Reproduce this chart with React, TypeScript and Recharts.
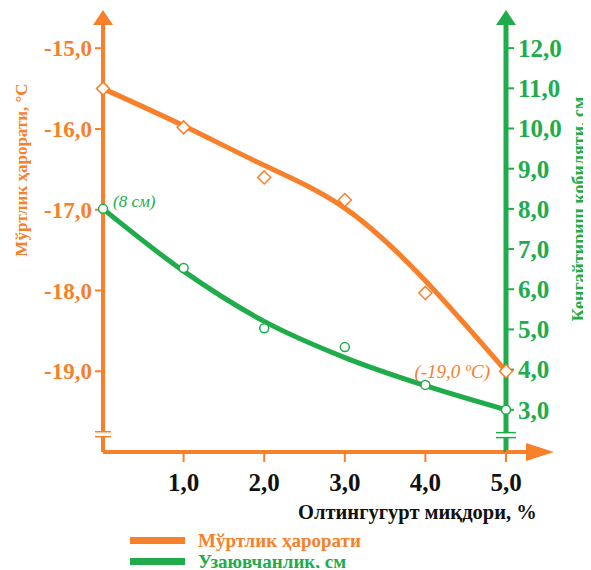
import React from "react";
import { ComposedChart, Line, XAxis, YAxis, ReferenceDot } from "recharts";

const ORANGE = "#F8802B";
const GREEN = "#20AC4A";
const FONT = "'Liberation Serif', 'Times New Roman', serif";

// sulphur content, %
const sulphur = [0, 1, 2, 3, 4, 5];
// brittleness temperature, °C (measured points and fitted curve)
const brittleTemp = [-15.5, -15.98, -16.6, -16.88, -18.03, -19.0];
const brittleFit = [-15.5, -15.96, -16.45, -16.98, -17.88, -19.0];
// ductility, cm (measured points and fitted curve)
const ductility = [8.0, 6.53, 5.03, 4.56, 3.62, 3.0];
const ductilityFit = [8.0, 6.45, 5.2, 4.3, 3.6, 3.0];

const xTicks = [1, 2, 3, 4, 5];
const tempTicks = [-19, -18, -17, -16, -15];
const ductTicks = [3, 4, 5, 6, 7, 8, 9, 10, 11, 12];

const tempDomain = [-20, -14.7];
const ductDomain = [1.95, 12.6];

const data = sulphur.map((x, i) => ({
  x,
  temp: brittleTemp[i],
  tempFit: brittleFit[i],
  duct: ductility[i],
  ductFit: ductilityFit[i],
}));

const comma = (v: number) => v.toFixed(1).replace(".", ",");

const Diamond = (props: any) => {
  const { cx, cy } = props;
  if (cx == null || cy == null) return <g />;
  const s = 6.5;
  return (
    <path
      d={`M${cx},${cy - s}L${cx + s},${cy}L${cx},${cy + s}L${cx - s},${cy}Z`}
      fill="#fff"
      stroke={ORANGE}
      strokeWidth={1.5}
    />
  );
};

const Ring = (props: any) => {
  const { cx, cy } = props;
  if (cx == null || cy == null) return <g />;
  return <circle cx={cx} cy={cy} r={4.5} fill="#fff" stroke={GREEN} strokeWidth={1.5} />;
};

const tempLabel = (p: any) =>
  p.index === brittleTemp.length - 1 ? (
    <text
      x={p.x - 16}
      y={p.y + 7}
      textAnchor="end"
      fill={ORANGE}
      fontSize={19}
      fontStyle="italic"
      fontFamily={FONT}
    >
      {`(${comma(p.value)} ºC)`}
    </text>
  ) : (
    <g />
  );

const ductLabel = (p: any) =>
  p.index === 0 ? (
    <text
      x={p.x + 10}
      y={p.y - 2}
      fill={GREEN}
      fontSize={17}
      fontStyle="italic"
      fontFamily={FONT}
    >
      {`(${Number(p.value)} см)`}
    </text>
  ) : (
    <g />
  );

const UpArrow = (color: string) => (p: any) => (
  <polygon
    points={`${p.cx - 10},${p.cy + 1} ${p.cx + 10},${p.cy + 1} ${p.cx},${p.cy - 14}`}
    fill={color}
  />
);

const RightArrow = (p: any) => (
  <g>
    <line x1={p.cx} y1={p.cy} x2={p.cx + 24} y2={p.cy} stroke={ORANGE} strokeWidth={4} />
    <polygon
      points={`${p.cx + 20},${p.cy - 9} ${p.cx + 20},${p.cy + 9} ${p.cx + 48},${p.cy}`}
      fill={ORANGE}
    />
  </g>
);

const AxisBreak = (color: string, half: number) => (p: any) => (
  <g>
    <rect x={p.cx - 3} y={p.cy - 2.5} width={6} height={5} fill="#fff" />
    <line x1={p.cx - half} y1={p.cy - 2.5} x2={p.cx + half} y2={p.cy - 2.5} stroke={color} strokeWidth={1.5} />
    <line x1={p.cx - half} y1={p.cy + 2.5} x2={p.cx + half} y2={p.cy + 2.5} stroke={color} strokeWidth={1.5} />
  </g>
);

const LeftTitle = (props: any) => {
  const { x, y } = props.viewBox;
  const cx = x - 2;
  const cy = y + 146;
  return (
    <text
      x={cx}
      y={cy}
      transform={`rotate(-90, ${cx}, ${cy})`}
      textAnchor="middle"
      dominantBaseline="central"
      fill={ORANGE}
      fontSize={17}
      fontWeight="bold"
      fontFamily={FONT}
    >
      Мўртлик ҳарорати, °С
    </text>
  );
};

const RightTitle = (props: any) => {
  const { x, y } = props.viewBox;
  const cx = x + 73;
  const cy = y + 185;
  return (
    <text
      x={cx}
      y={cy}
      transform={`rotate(-90, ${cx}, ${cy})`}
      textAnchor="middle"
      dominantBaseline="central"
      fill={GREEN}
      fontSize={18}
      fontWeight="bold"
      fontFamily={FONT}
    >
      Кенгайтириш қобиляти, см
    </text>
  );
};

const BottomTitle = (props: any) => {
  const { x, y } = props.viewBox;
  return (
    <text
      x={x + 195}
      y={y + 67}
      fill="#111"
      fontSize={20.5}
      fontWeight="bold"
      fontFamily={FONT}
    >
      Олтингугурт миқдори, %
    </text>
  );
};

const legendItems = [
  { name: "Мўртлик ҳарорати", color: ORANGE },
  { name: "Узаювчанлик, см", color: GREEN },
];

export default function App() {
  return (
    <div style={{ position: "relative", width: 583, height: 560, fontFamily: FONT }}>
      <ComposedChart
        width={583}
        height={560}
        data={data}
        margin={{ top: 16, right: 15, bottom: 66, left: 15 }}
      >
        <XAxis
          dataKey="x"
          type="number"
          domain={[0, 5]}
          ticks={xTicks}
          tickFormatter={comma}
          height={50}
          tickSize={10}
          tickMargin={11}
          axisLine={{ stroke: ORANGE, strokeWidth: 4 }}
          tickLine={{ stroke: ORANGE, strokeWidth: 2 }}
          tick={{ fill: "#111", fontSize: 25, fontWeight: "bold", fontFamily: FONT }}
          label={<BottomTitle />}
        />
        <YAxis
          yAxisId="left"
          orientation="left"
          domain={tempDomain}
          ticks={tempTicks}
          tickFormatter={comma}
          width={80}
          tickSize={8}
          tickMargin={3}
          axisLine={{ stroke: ORANGE, strokeWidth: 4 }}
          tickLine={{ stroke: ORANGE, strokeWidth: 2 }}
          tick={{ fill: ORANGE, fontSize: 23, fontWeight: "bold", fontFamily: FONT }}
          label={<LeftTitle />}
        />
        <YAxis
          yAxisId="right"
          orientation="right"
          domain={ductDomain}
          ticks={ductTicks}
          tickFormatter={comma}
          width={70}
          tickSize={8}
          tickMargin={4}
          axisLine={{ stroke: GREEN, strokeWidth: 5 }}
          tickLine={{ stroke: GREEN, strokeWidth: 2 }}
          tick={{ fill: GREEN, fontSize: 25, fontWeight: "bold", fontFamily: FONT }}
          label={<RightTitle />}
        />

        <Line
          yAxisId="left"
          dataKey="tempFit"
          type="natural"
          stroke={ORANGE}
          strokeWidth={5}
          dot={false}
          activeDot={false}
          isAnimationActive={false}
        />
        <Line
          yAxisId="right"
          dataKey="ductFit"
          type="monotone"
          stroke={GREEN}
          strokeWidth={5}
          dot={false}
          activeDot={false}
          isAnimationActive={false}
        />
        <Line
          yAxisId="left"
          dataKey="temp"
          stroke="none"
          dot={Diamond}
          activeDot={false}
          label={tempLabel}
          isAnimationActive={false}
        />
        <Line
          yAxisId="right"
          dataKey="duct"
          stroke="none"
          dot={Ring}
          activeDot={false}
          label={ductLabel}
          isAnimationActive={false}
        />

        <ReferenceDot yAxisId="left" x={0} y={tempDomain[1]} ifOverflow="visible" shape={UpArrow(ORANGE)} />
        <ReferenceDot yAxisId="right" x={5} y={ductDomain[1]} ifOverflow="visible" shape={UpArrow(GREEN)} />
        <ReferenceDot yAxisId="left" x={5} y={tempDomain[0]} ifOverflow="visible" shape={RightArrow} />
        <ReferenceDot yAxisId="left" x={0} y={-19.78} ifOverflow="visible" shape={AxisBreak(ORANGE, 8)} />
        <ReferenceDot yAxisId="right" x={5} y={2.37} ifOverflow="visible" shape={AxisBreak(GREEN, 10)} />
      </ComposedChart>

      <div style={{ position: "absolute", left: 122, top: 522 }}>
        {legendItems.map((item) => (
          <div
            key={item.name}
            style={{ display: "flex", alignItems: "center", height: 21 }}
          >
            <span
              style={{ display: "inline-block", width: 55, height: 7, background: item.color, marginRight: 13 }}
            />
            <span style={{ color: item.color, fontSize: 19, fontWeight: "bold" }}>{item.name}</span>
          </div>
        ))}
      </div>
    </div>
  );
}
